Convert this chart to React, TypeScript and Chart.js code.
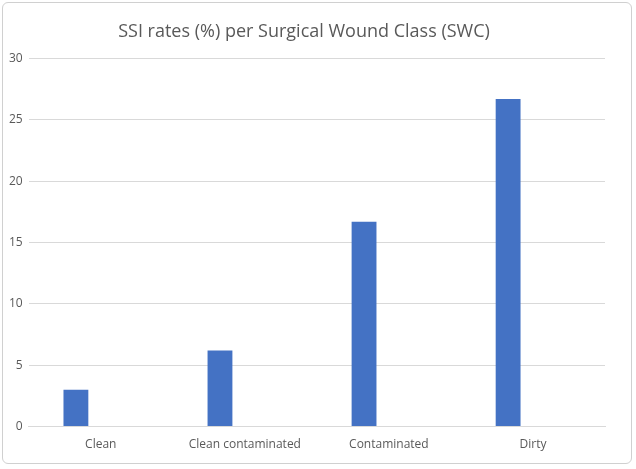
import React, { useEffect, useRef } from "react";
import { Chart, registerables } from "chart.js";
Chart.register(...registerables);

const categories = ["Clean", "Clean contaminated", "Contaminated", "Dirty"];
const ssiRates = [3.0, 6.2, 16.7, 26.7];
const emptySeries = [null, null, null, null];

export default function App() {
  const ref = useRef<HTMLCanvasElement>(null);
  useEffect(() => {
    const chart = new Chart(ref.current!, {
      type: "bar",
      data: {
        labels: categories,
        datasets: [
          { label: "SSI rate", data: ssiRates, backgroundColor: "#4472C4", categoryPercentage: 0.69, barPercentage: 0.5 },
          { label: "", data: emptySeries as any, backgroundColor: "#ED7D31", categoryPercentage: 0.69, barPercentage: 0.5 },
        ],
      },
      options: {
        animation: false,
        responsive: true,
        maintainAspectRatio: false,
        layout: { padding: { left: 0, right: 26, top: 4, bottom: 8 } },
        plugins: {
          legend: { display: false },
          tooltip: { enabled: false },
          title: {
            display: true,
            text: "SSI rates (%) per Surgical Wound Class (SWC)",
            color: "#595959",
            font: { family: "Open Sans", size: 18, weight: "normal" },
            padding: { top: 14, bottom: 16 },
          },
        },
        scales: {
          x: {
            grid: { display: false },
            border: { color: "#d9d9d9" },
            ticks: { color: "#595959", font: { family: "Open Sans", size: 12 } },
          },
          y: {
            min: 0,
            max: 30,
            ticks: { stepSize: 5, color: "#595959", font: { family: "Open Sans", size: 12 }, padding: 6 },
            grid: { color: "#d9d9d9", drawTicks: false },
            border: { display: false },
          },
        },
      },
    });
    return () => chart.destroy();
  }, []);
  return (
    <div style={{ position: "absolute", left: 2, top: 2, width: 630, height: 462, border: "1px solid #d0d0d0", borderRadius: 6, background: "#fff", boxSizing: "border-box" }}>
      <canvas ref={ref} />
    </div>
  );
}
